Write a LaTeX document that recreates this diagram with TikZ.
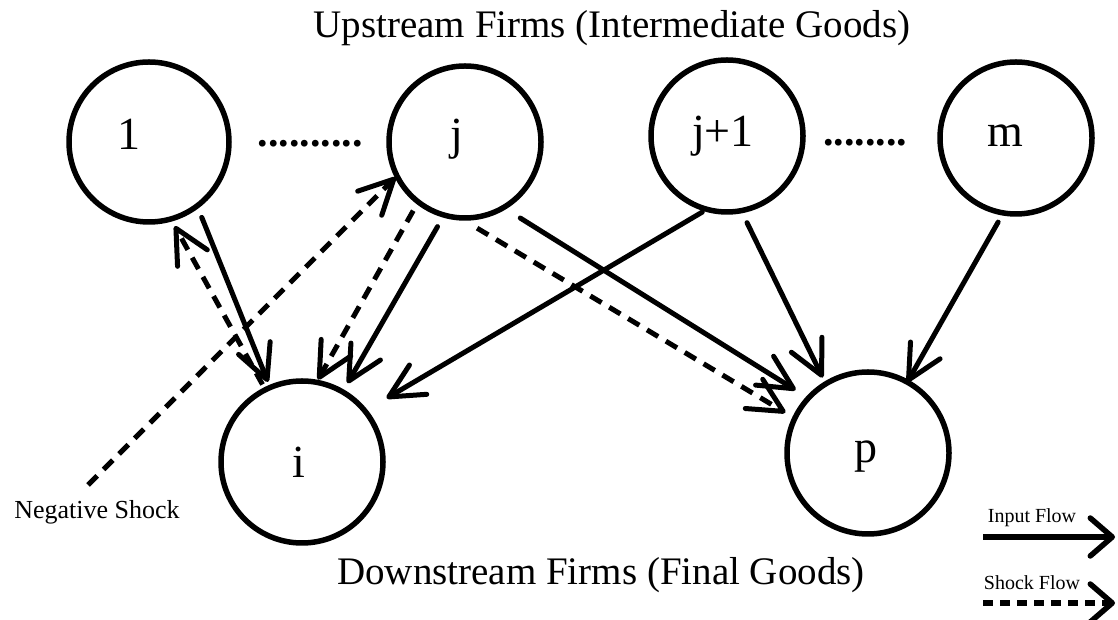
\documentclass[tikz,border=0pt]{standalone}
\usepackage{fontspec}
\setmainfont{Liberation Serif}
\usetikzlibrary{arrows.meta}
\begin{document}
\begin{tikzpicture}[x=1pt,y=1pt]
        % Styles
        \tikzset{
            firm/.style={circle,draw,line width=5.5pt,minimum size=#1,inner sep=0pt},
            firm label/.style={anchor=base,font=\fontsize{46}{52}\selectfont},
            dots/.style={anchor=base,font=\fontsize{42}{48}\selectfont\bfseries},
            heading/.style={anchor=base,font=\fontsize{39}{46}\selectfont},
            note/.style={anchor=base,font=\fontsize{#1}{#1}\selectfont},
            input flow/.style={line width=5pt,line cap=round,-{Straight Barb[length=34pt,width=34pt,round]}},
            shock flow/.style={input flow,line cap=butt,dash pattern=on 13pt off 9pt},
            legend flow/.style={line width=5.5pt,-{Straight Barb[length=22pt,width=38pt,round]}},
        }
        \useasboundingbox (0,0) rectangle (1118,620);
        %titles
        \node[heading] (up) at (612,582) {Upstream Firms (Intermediate Goods)};
        \node[heading] (down) at (601,35) {Downstream Firms (Final Goods)};
        %upstream firms
        \node[firm=160pt] (n1) at (149,478) {};
        \node[firm=152pt] (j) at (465,478) {};
        \node[firm=152pt] (j1) at (727,484) {};
        \node[firm=152pt] (m) at (1016,482) {};
        \node[firm label] (l1) at (129,470) {1};
        \node[firm label] (lj) at (457,470) {j};
        \node[firm label] (lj1) at (723,473) {j+1};
        \node[firm label] (lm) at (1005,473) {m};
        \node[dots] (dots a) at (310,473) {..........};
        \node[dots] (dots b) at (865,474) {........};
        %downstream firms
        \node[firm=162pt] (i) at (302,158) {};
        \node[firm=162pt] (p) at (868,167) {};
        \node[firm label] (li) at (299,142) {i};
        \node[firm label] (lp) at (866,157) {p};
        %input flows
        \draw[input flow] ([shift={(-55:92)}]n1.center) -- ([shift={(113:87)}]i.center);
        \draw[input flow] ([shift={(-108:89)}]j.center) -- ([shift={(60:91)}]i.center);
        \draw[input flow] ([shift={(-108:80)}]j1.center) -- ([shift={(37:106)}]i.center);
        \draw[input flow] ([shift={(-54:94)}]j.center) -- ([shift={(139:96)}]p.center);
        \draw[input flow] ([shift={(-77:89)}]j1.center) -- ([shift={(121:88)}]p.center);
        \draw[input flow] ([shift={(-102:86)}]m.center) -- ([shift={(61:81)}]p.center);
        %shock flows
        \node[note=26] (neg) at (97,101) {Negative Shock};
        \coordinate (src) at (88,135);
        \draw[shock flow] (src) -- ([shift={(-153:78)}]j.center);
        \draw[shock flow] ([shift={(-127:86)}]j.center) -- ([shift={(79:84)}]i.center);
        \draw[shock flow] ([shift={(117:87)}]i.center) -- ([shift={(-73:88)}]n1.center);
        \draw[shock flow] ([shift={(-82:87)}]j.center) -- ([shift={(154:92)}]p.center);
        %legend
        \node[note=20] (input) at (1032,97) {Input Flow};
        \node[note=20] (shock) at (1032,30) {Shock Flow};
        \coordinate (in a) at (983,83);
        \coordinate (in b) at (1115,83);
        \coordinate (sh a) at (983,17);
        \coordinate (sh b) at (1115,17);
        \draw[legend flow] (in a) -- (in b);
        \draw[legend flow,dash pattern=on 10pt off 7pt] (sh a) -- (sh b);
    \end{tikzpicture}
\end{document}
